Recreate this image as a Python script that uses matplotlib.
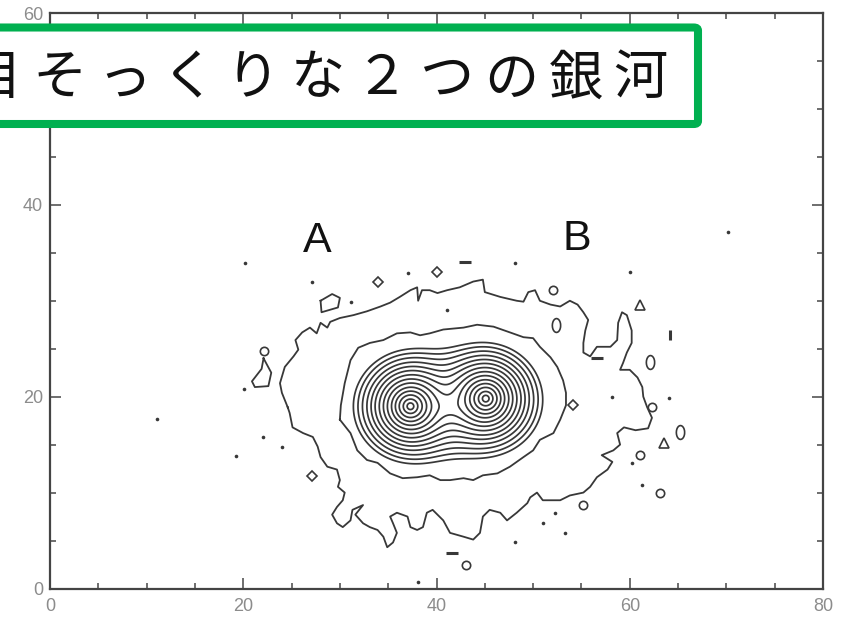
import numpy as np
import matplotlib
matplotlib.use("Agg")
import matplotlib.pyplot as plt
from matplotlib.patches import FancyBboxPatch
from matplotlib.ticker import MultipleLocator

# --- surface-brightness model for the two nuclei and their common envelope ---
nucleus_x = [37.3, 45.1]
nucleus_y = [19.0, 19.8]
nucleus_scale = 1.25
envelope_x = 41.2
envelope_y = 18.9
envelope_amp = 0.06
envelope_scale = 3.3
envelope_axis_ratio = 0.68
inner_levels = [0.012, 0.0166, 0.023, 0.032, 0.044, 0.06, 0.083, 0.115,
                0.158, 0.22, 0.30, 0.41, 0.57, 0.78]

# --- faint outer isophote (noisy) ---
outer_x = [24.6, 24.0, 23.8, 24.3, 25.2, 25.7, 25.4, 26.1, 26.9, 27.6,
           28.0, 28.7, 29.0, 30.0, 31.4, 32.8, 34.2, 35.2, 36.2, 37.3,
           38.0, 38.1, 38.5, 39.3, 40.1, 41.1, 42.4, 43.8, 44.8, 45.0,
           46.6, 48.3, 49.0, 49.5, 50.2, 50.7, 51.8, 52.8, 53.8, 54.6,
           55.2, 55.7, 55.4, 55.2, 55.2, 55.9, 56.6, 58.0, 58.7, 58.8,
           59.2, 59.7, 60.2, 60.2, 59.7, 59.3, 59.0, 60.0, 60.8, 61.3,
           61.4, 61.8, 62.3, 61.9, 60.6, 59.4, 58.7, 59.0, 58.3, 57.1,
           58.2, 57.7, 56.6, 55.9, 55.2, 53.8, 52.8, 51.0, 50.4, 49.7,
           49.4, 48.3, 47.3, 46.6, 45.5, 44.8, 44.5, 43.8, 42.8, 41.4,
           40.7, 39.6, 39.0, 38.6, 38.0, 37.3, 37.0, 35.9, 35.2, 35.5,
           35.9, 35.5, 34.9, 34.5, 33.9, 33.1, 32.4, 31.6, 32.4, 31.3,
           31.1, 30.3, 29.7, 29.2, 29.7, 30.3, 30.5, 29.8, 30.0, 29.7,
           28.7, 28.0, 27.7, 27.2, 26.2, 25.1, 24.8]
outer_y = [18.9, 20.4, 21.4, 23.1, 24.2, 24.9, 25.9, 26.7, 27.2, 26.6,
           27.7, 27.2, 27.8, 28.2, 28.5, 28.9, 29.4, 29.8, 30.4, 31.1,
           31.4, 30.0, 31.1, 31.1, 30.8, 31.1, 31.4, 32.0, 32.2, 30.9,
           30.4, 30.0, 29.9, 30.9, 31.1, 30.0, 29.6, 29.4, 30.0, 29.6,
           28.8, 28.0, 26.9, 25.6, 24.6, 24.2, 25.2, 25.2, 25.9, 27.7,
           28.8, 28.5, 26.9, 25.6, 24.6, 23.5, 22.8, 22.8, 22.0, 21.0,
           20.0, 18.9, 17.8, 16.7, 16.5, 16.8, 16.2, 15.0, 14.4, 13.9,
           13.2, 12.4, 11.6, 10.6, 10.0, 9.7, 9.2, 9.2, 10.0, 9.5,
           8.9, 7.9, 7.1, 7.9, 8.2, 7.5, 5.8, 5.1, 5.4, 5.8,
           7.1, 8.2, 7.9, 6.4, 6.1, 6.4, 7.5, 7.9, 7.5, 6.8,
           5.8, 4.8, 4.3, 5.4, 6.1, 6.4, 6.8, 7.7, 8.7, 8.2,
           7.1, 6.4, 6.8, 7.7, 8.5, 9.2, 10.0, 10.6, 11.3, 12.4,
           12.7, 13.7, 14.8, 15.8, 16.2, 16.8, 18.3]

# --- second isophote ---
mid_x = [30.0, 30.1, 30.5, 31.1, 31.9, 33.1, 34.5, 35.9, 37.3, 38.3,
         39.3, 40.7, 42.8, 44.2, 45.9, 47.6, 49.0, 50.0, 50.7, 51.8,
         52.5, 53.1, 53.4, 53.4, 52.8, 52.1, 50.7, 50.0, 49.0, 47.6,
         46.3, 44.8, 43.8, 42.8, 41.4, 40.4, 39.3, 38.0, 36.5, 35.2,
         33.9, 32.8, 31.8, 31.1]
mid_y = [17.6, 19.1, 21.4, 23.8, 25.1, 25.6, 25.9, 26.6, 26.7, 26.4,
         26.6, 27.0, 27.2, 27.5, 27.3, 26.7, 26.2, 26.1, 25.2, 24.1,
         23.1, 21.7, 20.4, 19.1, 17.6, 16.2, 15.5, 14.4, 13.7, 12.7,
         12.0, 11.8, 11.3, 11.5, 11.3, 11.3, 11.8, 11.6, 11.5, 12.0,
         13.1, 13.4, 14.4, 16.2]

# --- small isolated features ---
island_a_x = [22.1, 22.9, 22.6, 21.2, 20.9, 21.9]
island_a_y = [24.0, 22.5, 21.1, 21.0, 21.6, 22.9]
island_b_x = [28.0, 29.2, 30.0, 29.8, 28.1]
island_b_y = [30.0, 30.7, 30.3, 29.3, 28.8]

dot_x = [20.2, 27.1, 37.1, 48.1, 60.0, 41.1, 31.1, 20.1, 22.0, 24.0, 19.2,
         11.1, 58.2, 64.1, 60.2, 61.3, 52.3, 51.0, 53.3, 48.1, 70.2, 38.1]
dot_y = [33.9, 32.0, 32.9, 33.9, 33.0, 29.0, 29.9, 20.8, 15.8, 14.8, 13.8,
         17.7, 20.0, 19.9, 13.1, 10.8, 7.9, 6.8, 5.8, 4.9, 37.2, 0.7]
hdash_x = [43.0, 56.6, 41.6]
hdash_y = [34.0, 24.0, 3.7]
vdash_x = [64.2]
vdash_y = [26.4]
ring_x = [52.1, 62.3, 61.1, 63.1, 55.2, 43.1, 22.1]
ring_y = [31.1, 18.9, 13.9, 10.0, 8.7, 2.4, 24.8]
diamond_x = [33.9, 40.1, 27.1, 54.1]
diamond_y = [32.0, 33.0, 11.7, 19.1]
tall_ring_x = [52.4, 62.1, 65.2]
tall_ring_y = [27.5, 23.6, 16.3]
tri_x = [61.1, 63.5]
tri_y = [29.6, 15.2]

label_names = ["A", "B"]
label_x = [27.7, 54.5]
label_y = [36.2, 36.4]

title_text = "目そっくりな２つの銀河"

x_ticks = [0, 20, 40, 60, 80]
y_ticks = [0, 20, 40, 60]

W, H, DPI = 847, 634, 100
fig = plt.figure(figsize=(W / DPI, H / DPI), dpi=DPI)
fig.patch.set_facecolor("white")
ax = fig.add_axes([50 / W, 45.5 / H, 773 / W, 575.5 / H])

line_col = "#383838"

gx, gy = np.meshgrid(np.linspace(0, 80, 801), np.linspace(0, 60, 601))
field = np.zeros_like(gx)
for cx, cy in zip(nucleus_x, nucleus_y):
    field += np.exp(-np.hypot(gx - cx, gy - cy) / nucleus_scale)
field += envelope_amp * np.exp(
    -np.hypot(gx - envelope_x, (gy - envelope_y) / envelope_axis_ratio) / envelope_scale)
ax.contour(gx, gy, field, levels=inner_levels, colors=line_col, linewidths=1.25)


def closed(xs, ys):
    return list(xs) + [xs[0]], list(ys) + [ys[0]]


for xs, ys in [(outer_x, outer_y), (mid_x, mid_y), (island_a_x, island_a_y),
               (island_b_x, island_b_y)]:
    cx_, cy_ = closed(xs, ys)
    ax.plot(cx_, cy_, color=line_col, lw=1.3, solid_joinstyle="round")

# upright oval marker for the elongated knots
t = np.linspace(0, 2 * np.pi, 25)
oval = np.column_stack([0.6 * np.cos(t), np.sin(t)])

ax.plot(dot_x, dot_y, "o", ms=2.6, color=line_col, mec="none")
ax.plot(hdash_x, hdash_y, "_", ms=8, mew=2.2, color=line_col)
ax.plot(vdash_x, vdash_y, "|", ms=7, mew=2.2, color=line_col)
ax.plot(ring_x, ring_y, "o", ms=6, mfc="none", mec=line_col, mew=1.2)
ax.plot(diamond_x, diamond_y, "D", ms=5, mfc="none", mec=line_col, mew=1.2)
ax.plot(tall_ring_x, tall_ring_y, marker=oval, ls="none", ms=10,
        mfc="none", mec=line_col, mew=1.2)
ax.plot(tri_x, tri_y, "^", ms=7, mfc="none", mec=line_col, mew=1.2)

for name, lx, ly in zip(label_names, label_x, label_y):
    ax.text(lx, ly, name, ha="center", va="center", fontsize=31,
            family="Liberation Sans", color="#111111")

ax.set_xlim(0, 80)
ax.set_ylim(0, 60)
ax.set_xticks(x_ticks)
ax.set_yticks(y_ticks)
ax.xaxis.set_minor_locator(MultipleLocator(5))
ax.yaxis.set_minor_locator(MultipleLocator(5))
ax.tick_params(which="both", direction="in", top=True, right=True,
               color="#555555", width=1.2)
ax.tick_params(which="major", length=8)
ax.tick_params(which="minor", length=4)
ax.tick_params(axis="both", labelsize=13, labelcolor="#8c8c8c")
ax.tick_params(axis="x", pad=7)
ax.tick_params(axis="y", pad=5)
for lab in ax.get_xticklabels() + ax.get_yticklabels():
    lab.set_family("Liberation Sans")
for sp in ax.spines.values():
    sp.set_color("#444444")
    sp.set_linewidth(1.6)

# title banner, drawn in figure pixel units
box_left, box_right = -20, 698
box_top, box_bottom = 27.5, 124
banner = FancyBboxPatch((box_left / W, 1 - box_bottom / H),
                        (box_right - box_left) / W, (box_bottom - box_top) / H,
                        boxstyle="round,pad=0,rounding_size=0.005",
                        transform=fig.transFigure, facecolor="white",
                        edgecolor="#00b050", linewidth=5.8, zorder=5)
fig.add_artist(banner)

last_center, pitch = 640, 64.5
n = len(title_text)
for i, ch in enumerate(title_text):
    px = last_center - pitch * (n - 1 - i)
    fig.text(px / W, 1 - 79 / H, ch, ha="center", va="center", fontsize=39,
             family=["Noto Sans CJK JP", "DejaVu Sans"], color="#111111",
             zorder=6)

fig.savefig("out.png", dpi=DPI, facecolor="white")
